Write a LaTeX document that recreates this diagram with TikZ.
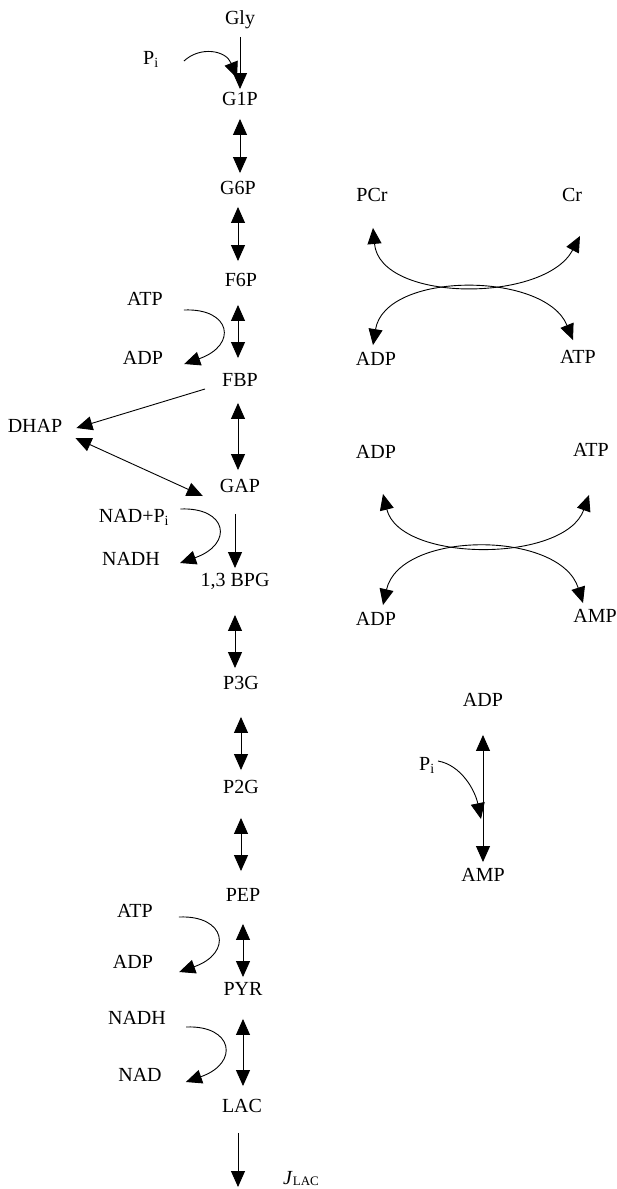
\documentclass[tikz,border=0pt]{standalone}
\usepackage{fontspec}
\setmainfont{Liberation Serif}
\usetikzlibrary{arrows.meta,calc}
\tikzstyle{mt}=[inner sep=0pt,text height=13.5pt,text depth=0pt,
  font=\fontsize{20}{24}\selectfont]
\tikzstyle{ar}=[line width=0.9pt,-{Triangle[length=16pt,width=14pt]}]
\tikzstyle{dar}=[line width=0.9pt,
  {Triangle[length=16pt,width=14pt]}-{Triangle[length=16pt,width=14pt]}]

\begin{document}
\begin{tikzpicture}[x=1pt,y=-1pt]
        \useasboundingbox (0,0) rectangle (617,1189);
        % glycolysis chain
        \node[mt] (1) at (240,18) {Gly};
        \node[mt] (2) at (240,99) {G1P};
        \node[mt] (3) at (238,188) {G6P};
        \node[mt] (4) at (241,280) {F6P};
        \node[mt] (5) at (240,380) {FBP};
        \node[mt] (6) at (240,486) {GAP};
        \node[mt] (7) at (235,580) {1,3 BPG};
        \node[mt] (8) at (241,683) {P3G};
        \node[mt] (9) at (241,787) {P2G};
        \node[mt] (10) at (243,895) {PEP};
        \node[mt] (11) at (243,989) {PYR};
        \node[mt] (12) at (242,1106) {LAC};
        \node[mt] (dhap) at (35,426) {DHAP};
        \node[mt] (jlac) at (301,1178) {\textit{J}{\fontsize{13}{14}\selectfont\raisebox{-1pt}{LAC}}};
        \coordinate (out) at (238,1187);
        % co-substrates
        \node[mt] (pi1) at (151,58) {P\textsubscript{i}};
        \node[mt] (atp1) at (145,299) {ATP};
        \node[mt] (adp1) at (143,358) {ADP};
        \node[mt] (nad1) at (134,516) {NAD+P\textsubscript{i}};
        \node[mt] (nadh1) at (131,559) {NADH};
        \node[mt] (atp2) at (135,911) {ATP};
        \node[mt] (adp2) at (133,962) {ADP};
        \node[mt] (nadh2) at (137,1018) {NADH};
        \node[mt] (nad2) at (140,1075) {NAD};
        % energy buffers
        \node[mt] (1a) at (372,195) {PCr};
        \node[mt] (2a) at (572,195) {Cr};
        \node[mt] (3a) at (376,359) {ADP};
        \node[mt] (4a) at (578,357) {ATP};
        \node[mt] (1b) at (376,452) {ADP};
        \node[mt] (2b) at (591,450) {ATP};
        \node[mt] (3b) at (376,619) {ADP};
        \node[mt] (4b) at (595,616) {AMP};
        \node[mt] (1c) at (483,700) {ADP};
        \node[mt] (2c) at (483,875) {AMP};
        \node[mt] (pi2) at (427,764) {P\textsubscript{i}};

        \draw[ar,shorten <=12pt,shorten >=3pt] (1.south) -- (1.south |- 2.north);
        \draw[dar,shorten <=13pt,shorten >=8pt] (2.south) -- (2.south |- 3.north);
        \draw[dar,shorten <=12pt,shorten >=12pt] (3.south) -- (3.south |- 4.north);
        \draw[dar,shorten <=18pt,shorten >=15pt] (4.south -| 3) -- (3 |- 5.north);
        \draw[dar,shorten <=16pt,shorten >=9pt] (5.south -| 3) -- (3 |- 6.north);
        \draw[ar,shorten <=21pt,shorten >=5pt] (6.south -| 7) -- (7.north);
        \draw[dar,shorten <=28pt,shorten >=8pt] (7.south) -- (7.south |- 8.north);
        \draw[dar,shorten <=27pt,shorten >=10pt] (8.south) -- (8.south |- 9.north);
        \draw[dar,shorten <=24pt,shorten >=17pt] (9.south) -- (9.south |- 10.north);
        \draw[dar,shorten <=22pt,shorten >=5pt] (10.south) -- (10.south |- 11.north);
        \draw[dar,shorten <=23pt,shorten >=13pt] (11.south) -- (11.south |- 12.north);
        \draw[ar,shorten <=20pt] (12.south -| out) -- (out);
        \draw[ar] ($(5.west)+(-17,9)$) -- ($(dhap.east)+(14,2)$);
        \draw[dar] ($(dhap.east)+(13,12)$) -- ($(6.west)+(-17,10)$);

        \draw[ar] ($(pi1.east)+(25,3)$) .. controls +(16,-15) and +(-11,-28) .. ($(2.north)+(-3,-14)$);
        \draw[ar] ($(atp1.east)+(21,11)$) .. controls +(47,-2) and +(54,-19) .. ($(adp1.east)+(21,6)$);
        \draw[ar] ($(nad1.east)+(11,-7)$) .. controls +(47,-2) and +(54,-19) .. ($(nadh1.east)+(20,4)$);
        \draw[ar] ($(atp2.east)+(26,6)$) .. controls +(47,-2) and +(54,-19) .. ($(adp2.east)+(26,10)$);
        \draw[ar] ($(nadh2.east)+(20,9)$) .. controls +(47,-2) and +(54,-19) .. ($(nad2.east)+(24,7)$);

        \draw[dar] ($(1a.south)+(1,26)$) .. controls +(7,75) and +(-35,67) .. ($(2a.south)+(8,34)$);
        \draw[dar] ($(3a.north)+(-3,-7)$) .. controls +(12,-74) and +(-28,-69) .. ($(4a.north)+(-5,-10)$);
        \draw[dar] ($(1b.south)+(7,35)$) .. controls +(17,69) and +(-24,68) .. ($(2b.south)+(-2,38)$);
        \draw[dar] ($(3b.north)+(7,-7)$) .. controls +(17,-75) and +(-23,-73) .. ($(4b.north)+(-12,-6)$);
        \draw[dar,shorten <=28pt,shorten >=6pt] (1c.south) -- (2c.north);
        \draw[ar] ($(pi2.east)+(3,-3)$) .. controls +(23,4) and +(-6,-29) .. ($(2c.north)+(-2,-49)$);
\end{tikzpicture}
\end{document}
